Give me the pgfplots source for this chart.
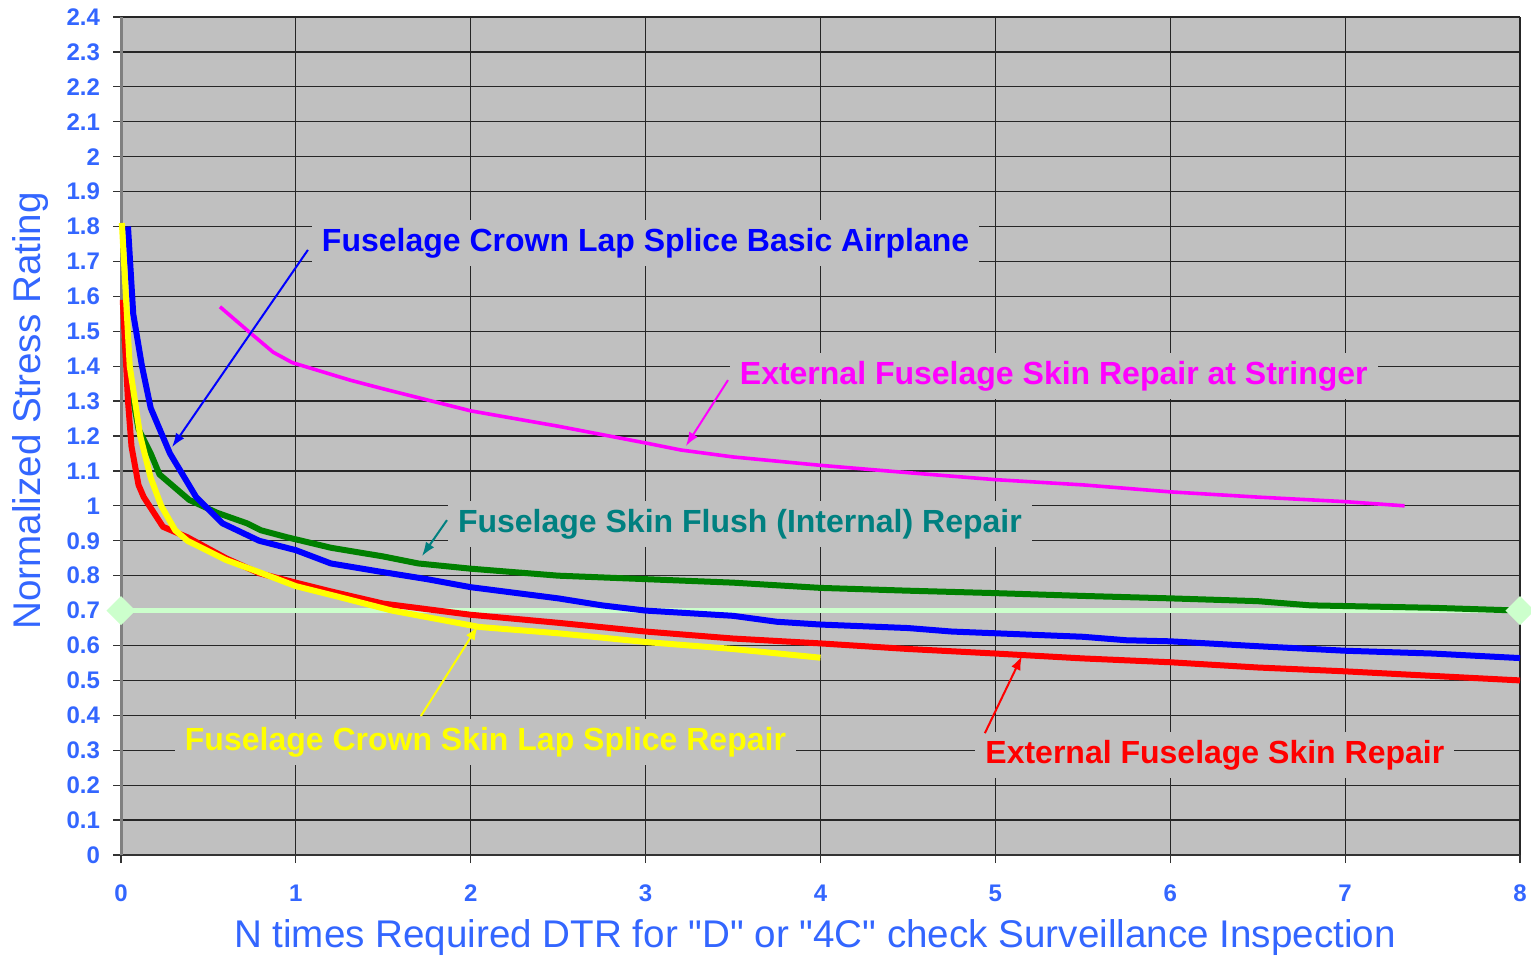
\documentclass[border=0pt]{standalone}
\usepackage{fontspec}
\setmainfont{Liberation Sans}[Ligatures=TeXOff]
\usepackage{pgfplots}
\pgfplotsset{compat=1.18}
\usetikzlibrary{arrows.meta}
\definecolor{bg}{HTML}{C0C0C0}
\definecolor{lbl}{HTML}{3366FF}
\definecolor{lgreen}{HTML}{CCFFCC}
\definecolor{tealc}{HTML}{008080}
\definecolor{dgreen}{HTML}{008000}
\definecolor{magc}{HTML}{FF00FF}
\definecolor{yelc}{HTML}{FFFF00}
\definecolor{redc}{HTML}{FF0000}
\definecolor{bluec}{HTML}{0000FF}
\begin{document}
\begin{tikzpicture}
\useasboundingbox (0,0) rectangle (765.5pt,480pt);
\begin{axis}[
  at={(60.5pt,52.5pt)}, anchor=south west,
  scale only axis, width=699.5pt, height=419pt,
  xmin=0, xmax=8, ymin=0, ymax=2.4,
  xtick={0,1,2,3,4,5,6,7,8},
  ytick={0,0.1,0.2,0.3,0.4,0.5,0.6,0.7,0.8,0.9,1,1.1,1.2,1.3,1.4,1.5,1.6,1.7,1.8,1.9,2,2.1,2.2,2.3,2.4},
  axis background/.style={fill=bg},
  grid=major, major grid style={black!85, line width=0.6pt},
  axis x line*=bottom, axis y line*=left,
  x axis line style={-, draw=black!80, line width=1pt},
  y axis line style={-, draw=gray, line width=1.5pt},
  tick align=outside, major tick length=4pt,
  tick style={black!80, line width=0.6pt},
  ticklabel style={font=\bfseries\fontsize{12}{14}\selectfont, text=lbl},
  xticklabel shift=7.5pt,
  yticklabel shift=3pt,
  /pgf/number format/assume math mode=true,
  clip=false,
  xlabel={N times Required DTR for "D" or "4C" check Surveillance Inspection},
  ylabel={Normalized Stress Rating},
  xlabel style={at={(axis description cs:0.496,-0.099)}, anchor=center, font=\fontsize{19.3}{22}\selectfont, text=lbl},
  ylabel style={at={(axis description cs:-0.065,0.53)}, anchor=center, font=\fontsize{19.3}{22}\selectfont, text=lbl},
]
% reference line
\addplot[lgreen, line width=2.5pt, mark=square*, mark size=3.9pt, mark options={rotate=45, fill=lgreen, draw=lgreen}] coordinates {(0,0.7) (8,0.7)};
% Flush (internal) repair
\addplot[dgreen, line width=3pt, line join=round] coordinates {
(0.02,1.48) (0.035,1.40) (0.1,1.22) (0.17,1.15) (0.22,1.09) (0.39,1.017) (0.55,0.98) (0.72,0.95) (0.8,0.93) (0.95,0.91) (1.2,0.88) (1.5,0.855) (1.7,0.835) (2.0,0.82) (2.5,0.80) (3.0,0.79) (3.5,0.78) (4.0,0.765) (4.5,0.757) (5.0,0.75) (5.5,0.742) (6.0,0.735) (6.5,0.727) (6.8,0.715) (7.0,0.713) (7.5,0.708) (8.0,0.70)};
% Crown lap splice basic airplane
\addplot[bluec, line width=3pt, line join=round] coordinates {
(0.04,1.80) (0.07,1.55) (0.12,1.40) (0.17,1.28) (0.28,1.15) (0.43,1.025) (0.58,0.95) (0.79,0.90) (1.0,0.873) (1.2,0.835) (1.5,0.81) (1.75,0.79) (2.0,0.767) (2.5,0.735) (2.75,0.715) (3.0,0.70) (3.5,0.685) (3.75,0.668) (4.0,0.66) (4.5,0.65) (4.75,0.64) (5.0,0.635) (5.5,0.625) (5.75,0.615) (6.0,0.612) (6.5,0.598) (7.0,0.585) (7.5,0.577) (8.0,0.564)};
% External skin repair
\addplot[redc, line width=3pt, line join=round] coordinates {
(0.01,1.59) (0.04,1.30) (0.06,1.17) (0.1,1.06) (0.13,1.025) (0.24,0.94) (0.38,0.91) (0.6,0.85) (0.79,0.807) (1.0,0.78) (1.2,0.755) (1.5,0.72) (2.0,0.688) (2.5,0.665) (3.0,0.64) (3.5,0.62) (4.0,0.606) (4.5,0.59) (5.0,0.577) (5.5,0.563) (6.0,0.552) (6.5,0.537) (7.0,0.526) (7.5,0.513) (8.0,0.50)};
% Crown skin lap splice repair
\addplot[yelc, line width=3pt, line join=round] coordinates {
(0.005,1.81) (0.05,1.40) (0.11,1.20) (0.17,1.08) (0.23,1.0) (0.31,0.93) (0.38,0.90) (0.6,0.845) (0.79,0.81) (1.0,0.77) (1.2,0.745) (1.55,0.70) (2.05,0.653) (2.5,0.635) (3.0,0.61) (3.5,0.59) (4.0,0.565)};
% External skin repair at stringer
\addplot[magc, line width=1.8pt, line join=round] coordinates {
(0.566,1.57) (0.74,1.495) (0.87,1.44) (0.98,1.41) (1.31,1.36) (1.5,1.335) (2.0,1.272) (2.5,1.228) (3.0,1.18) (3.2,1.16) (3.5,1.14) (4.0,1.116) (4.5,1.095) (5.0,1.075) (5.5,1.06) (6.0,1.04) (6.5,1.025) (7.0,1.012) (7.34,1.0)};
% annotations
\tikzset{lab/.style={fill=bg, inner xsep=5pt, inner ysep=4pt, font=\bfseries\fontsize{16}{19}\selectfont}}
\node[lab, text=bluec] at (axis cs:3.0,1.752) {Fuselage Crown Lap Splice Basic Airplane};
\node[lab, text=magc] at (axis cs:5.334,1.372) {External Fuselage Skin Repair at Stringer};
\node[lab, text=tealc] at (axis cs:3.539,0.948) {Fuselage Skin Flush (Internal) Repair};
\node[lab, text=yelc] at (axis cs:2.084,0.3236) {Fuselage Crown Skin Lap Splice Repair};
\node[lab, text=redc] at (axis cs:6.255,0.2864) {External Fuselage Skin Repair};
\draw[bluec, line width=1pt, -{Latex[length=7pt,width=5pt]}] (axis cs:1.069,1.733) -- (axis cs:0.292,1.168);
\draw[magc, line width=1pt, -{Latex[length=7pt,width=5pt]}] (axis cs:3.471,1.360) -- (axis cs:3.230,1.171);
\draw[tealc, line width=1pt, -{Latex[length=7pt,width=5pt]}] (axis cs:1.864,0.959) -- (axis cs:1.721,0.856);
\draw[yelc, line width=1pt, -{Latex[length=7pt,width=5pt]}] (axis cs:1.715,0.398) -- (axis cs:2.041,0.656);
\draw[redc, line width=1pt, -{Latex[length=7pt,width=5pt]}] (axis cs:4.940,0.349) -- (axis cs:5.152,0.570);
\end{axis}
\end{tikzpicture}
\end{document}
